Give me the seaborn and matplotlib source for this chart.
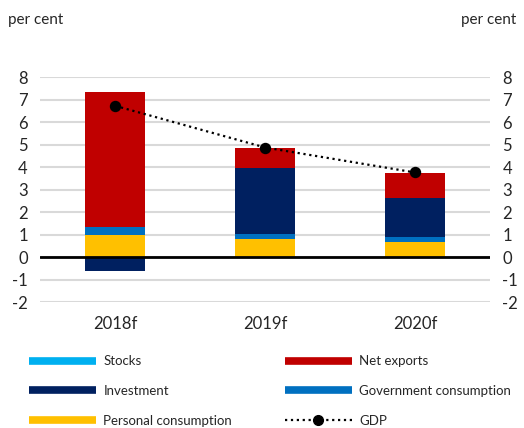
import numpy as np
import pandas as pd
import matplotlib
matplotlib.use('Agg')
import matplotlib.pyplot as plt
from matplotlib.lines import Line2D
import seaborn as sns

# values (percentage-point contributions)
years = ['2018f', '2019f', '2020f']
personal = [1.00, 0.79, 0.68]
government = [0.33, 0.23, 0.21]
investment = [-0.62, 2.94, 1.75]
net_exports = [6.00, 0.87, 1.09]
stocks = [0.0, 0.0, 0.0]
gdp = [6.72, 4.87, 3.76]

sns.set_style('white')
plt.rcParams['font.family'] = ['Lato', 'DejaVu Sans']
plt.rcParams['axes.unicode_minus'] = False

colors = {
    'Stocks': '#00B0F0',
    'Net exports': '#C00000',
    'Investment': '#002060',
    'Government consumption': '#0070C0',
    'Personal consumption': '#FFC000',
}

fig = plt.figure(figsize=(5.24, 4.28), dpi=100)
ax = fig.add_axes([0.077, 0.294, 0.858, 0.526])

# stack positives upwards and negatives downwards
series = [('Personal consumption', personal), ('Government consumption', government),
          ('Stocks', stocks), ('Investment', investment), ('Net exports', net_exports)]
pos_base = np.zeros(3)
neg_base = np.zeros(3)
for name, vals in series:
    vals = np.array(vals, dtype=float)
    bottom = np.where(vals >= 0, pos_base, neg_base)
    df = pd.DataFrame({'year': years, 'value': vals})
    sns.barplot(data=df, x='year', y='value', color=colors[name], saturation=1,
                width=0.4, bottom=bottom, ax=ax, errorbar=None, zorder=3,
                linewidth=0, edgecolor='none')
    pos_base += np.where(vals >= 0, vals, 0)
    neg_base += np.where(vals < 0, vals, 0)

gdp_df = pd.DataFrame({'year': years, 'gdp': gdp})
sns.pointplot(data=gdp_df, x='year', y='gdp', color='black', linestyle=':',
              markersize=7, linewidth=1.6, ax=ax, zorder=5)

ax.set_ylim(-2, 8)
ax.set_xlim(-0.5, 2.5)
ax.set_yticks(range(-2, 9))
ax.yaxis.grid(True, color='#D9D9D9', linewidth=1.5, zorder=0)
ax.set_axisbelow(True)
ax.axhline(0, color='black', linewidth=2, zorder=4)
for s in ax.spines.values():
    s.set_visible(False)
ax.set_xlabel('')
ax.set_ylabel('')
ax.tick_params(axis='y', labelleft=True, labelright=True, length=0, labelsize=12, pad=9)
ax.tick_params(axis='x', length=0, labelsize=12, pad=10)

fig.text(0.015, 0.953, 'per cent', fontsize=11, ha='left', va='center')
fig.text(0.985, 0.953, 'per cent', fontsize=11, ha='right', va='center')

def bar_handle(c):
    return Line2D([], [], color=c, linewidth=5.5, solid_capstyle='butt')

left_names = ['Stocks', 'Investment', 'Personal consumption']
left_handles = [bar_handle(colors[n]) for n in left_names]
right_names = ['Net exports', 'Government consumption', 'GDP']
right_handles = [bar_handle(colors['Net exports']), bar_handle(colors['Government consumption']),
                 Line2D([], [], color='black', linestyle=':', marker='o', markersize=7, linewidth=1.6)]

leg_kw = dict(frameon=False, fontsize=9.5, handlelength=5.1, handletextpad=0.55,
              labelspacing=1.35, loc='upper left', borderaxespad=0, borderpad=0)
leg1 = fig.legend(left_handles, left_names, bbox_to_anchor=(0.055, 0.17), **leg_kw)
leg2 = fig.legend(right_handles, right_names, bbox_to_anchor=(0.543, 0.17), **leg_kw)

fig.savefig('out.png', dpi=100)
